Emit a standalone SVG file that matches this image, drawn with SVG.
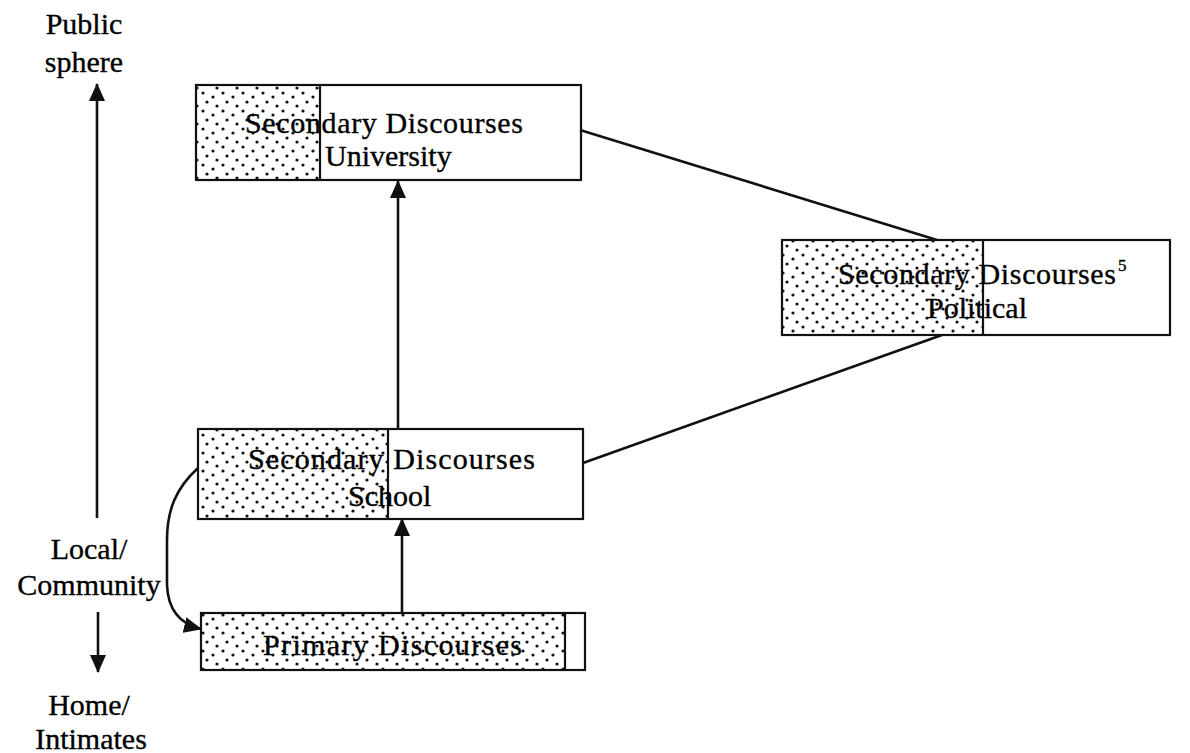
<svg xmlns="http://www.w3.org/2000/svg" width="1190" height="753" viewBox="0 0 1190 753">
  <style>
    text { font-family: "Liberation Serif", "Times New Roman", serif; font-size: 30px; fill: #000; stroke: #000; stroke-width: 0.35; }
    .box { fill: none; stroke: #111; stroke-width: 2.2; }
    .shade { fill: url(#dots); stroke: none; }
    .div { stroke: #111; stroke-width: 2.2; }
    .conn { fill: none; stroke: #111; stroke-width: 2.6; }
    .sup { font-size: 17px; }
    .axis text { text-anchor: middle; }
  </style>
  <defs>
    <pattern id="dots" width="20" height="18" patternUnits="userSpaceOnUse">
      <rect width="20" height="18" fill="#fff"/>
      <circle cx="3" cy="3" r="1.6" fill="#111"/>
      <circle cx="13" cy="7" r="1.6" fill="#111"/>
      <circle cx="7" cy="12" r="1.6" fill="#111"/>
      <circle cx="17" cy="16" r="1.6" fill="#111"/>
    </pattern>
    <marker id="arrow" viewBox="0 0 18 16" refX="17" refY="8" markerWidth="18" markerHeight="16" markerUnits="userSpaceOnUse" orient="auto">
      <path d="M0,0 L18,8 L0,16 Z" fill="#111"/>
    </marker>
  </defs>

  <rect width="1190" height="753" fill="#fff"/>

  <!-- vertical axis: public sphere / local community / home -->
  <g id="axis" class="axis">
    <text x="84" y="34">Public</text>
    <text x="84" y="72">sphere</text>
    <line class="conn" x1="97" y1="518" x2="97" y2="84" marker-end="url(#arrow)"/>
    <text x="89" y="559">Local/</text>
    <text x="89" y="595">Community</text>
    <line class="conn" x1="98" y1="612" x2="98" y2="672" marker-end="url(#arrow)"/>
    <text x="89" y="715">Home/</text>
    <text x="91" y="749">Intimates</text>
  </g>

  <!-- connectors -->
  <g id="connectors">
    <line class="conn" x1="580" y1="130" x2="937" y2="240"/>
    <line class="conn" x1="942" y1="335" x2="583" y2="463"/>
    <line class="conn" x1="398" y1="429" x2="398" y2="181" marker-end="url(#arrow)"/>
    <line class="conn" x1="402" y1="613" x2="402" y2="519" marker-end="url(#arrow)"/>
    <path class="conn" d="M198,468 C176,488 167,510 167,540 L167,585 C168,610 180,624 201,629" marker-end="url(#arrow)"/>
  </g>

  <!-- Secondary Discourses: University -->
  <g id="university">
    <rect class="shade" x="196" y="85" width="124" height="95"/>
    <rect class="box" x="196" y="85" width="385" height="95"/>
    <line class="div" x1="320" y1="85" x2="320" y2="180"/>
    <text x="245" y="133" textLength="278">Secondary Discourses</text>
    <text x="325" y="166">University</text>
  </g>

  <!-- Secondary Discourses: Political -->
  <g id="political">
    <rect class="shade" x="782" y="240" width="201" height="95"/>
    <rect class="box" x="782" y="240" width="388" height="95"/>
    <line class="div" x1="983" y1="240" x2="983" y2="335"/>
    <text x="838" y="284" textLength="278">Secondary Discourses</text>
    <text class="sup" x="1118" y="271">5</text>
    <text x="927" y="318">Political</text>
  </g>

  <!-- Secondary Discourses: School -->
  <g id="school">
    <rect class="shade" x="198" y="429" width="190" height="90"/>
    <rect class="box" x="198" y="429" width="385" height="90"/>
    <line class="div" x1="388" y1="429" x2="388" y2="519"/>
    <text x="248" y="469" textLength="287">Secondary Discourses</text>
    <text x="348" y="506">School</text>
  </g>

  <!-- Primary Discourses -->
  <g id="primary">
    <rect class="shade" x="201" y="613" width="364" height="57"/>
    <rect class="box" x="201" y="613" width="384" height="57"/>
    <line class="div" x1="565" y1="613" x2="565" y2="670"/>
    <text x="263" y="655" textLength="259">Primary Discourses</text>
  </g>
</svg>
